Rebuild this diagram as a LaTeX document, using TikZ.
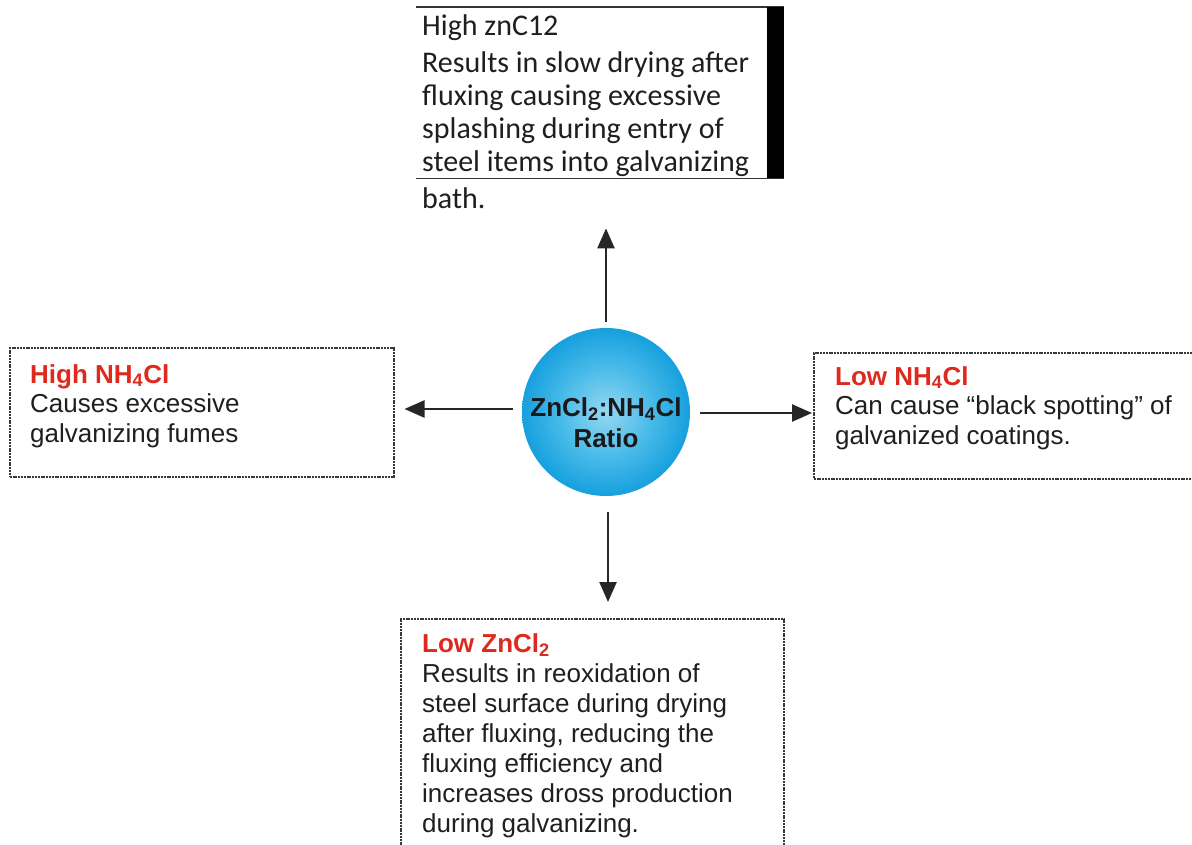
\documentclass[tikz,border=0pt]{standalone}
\usepackage{fontspec}
\setmainfont{Liberation Sans}
\newfontfamily\calibrifont{Carlito}
\usetikzlibrary{arrows.meta}
\definecolor{titlered}{RGB}{222,42,30}
\definecolor{ballin}{RGB}{150,215,242}
\definecolor{ballmid}{RGB}{75,188,233}
\definecolor{ballout}{RGB}{22,160,222}
\pgfdeclareradialshading{blueball}{\pgfpoint{0bp}{0bp}}{color(0bp)=(ballin); color(13bp)=(ballmid); color(25bp)=(ballout); color(50bp)=(ballout)}
\tikzset{
  fbox/.style={draw=black!78, dash pattern=on 2pt off 0.8pt, line width=1.5pt, inner sep=0pt},
  txt/.style={anchor=north west, align=left, inner sep=0pt, font=\fontsize{26}{29.5}\selectfont, text=black!88},
  toptxt/.style={anchor=north west, align=left, inner sep=0pt, font=\calibrifont\fontsize{30}{33.3}\selectfont, text=black!88},
  hub/.style={circle, shading=blueball, minimum size=168pt, inner sep=0pt},
  hubtxt/.style={align=center, inner sep=0pt, font=\bfseries\fontsize{26}{31}\selectfont, text=black!90},
  arr/.style={line width=2.4pt, draw=black!85, -{Triangle[length=20pt,width=17pt]}}
}
\newcommand{\ttlr}[1]{\textcolor{titlered}{\bfseries #1}}
\begin{document}
\begin{tikzpicture}[x=1pt,y=-1pt]
\useasboundingbox (0,0) rectangle (1192,845);
\fill[white] (0,0) rectangle (1192,845);

% centre
\node[hub] (hub) at (606,412) {};
\node[hubtxt] (hubtext) at ([yshift=-11pt]hub.center) {ZnCl\textsubscript{2}:NH\textsubscript{4}Cl\\Ratio};

% top box
\node[anchor=north west, minimum width=368pt, minimum height=171pt, inner sep=0pt] (topbox) at (416,7) {};
\draw[line width=1.5pt, black!80] (topbox.north west) -- (topbox.north east);
\draw[line width=1.5pt, black!80] (topbox.south west) -- (topbox.south east);
\fill[black] (topbox.north east) rectangle ([xshift=-17pt]topbox.south east);
\node[toptxt] (toptext) at (422,14) {High znC12\\[3.7pt]Results in slow drying after\\fluxing causing excessive\\splashing during entry of\\steel items into galvanizing};
\node[toptxt] (bath) at (422,187) {bath.};

% left box
\node[fbox, anchor=north west, minimum width=384pt, minimum height=129pt] (lbox) at (9,347) {};
\node[txt] (ltext) at (30,364) {\ttlr{High NH\textsubscript{4}Cl}\\Causes excessive\\galvanizing fumes};

% right box
\node[fbox, anchor=north west, minimum width=420pt, minimum height=126pt] (rbox) at (813,352) {};
\node[txt] (rtext) at (835,366) {\ttlr{Low NH\textsubscript{4}Cl}\\Can cause “black spotting” of\\galvanized coatings.};

% bottom box
\node[fbox, anchor=north west, minimum width=383pt, minimum height=260pt] (bbox) at (400,618) {};
\node[txt, font=\fontsize{26}{30}\selectfont] (btext) at (422,633) {\ttlr{Low ZnCl\textsubscript{2}}\\Results in reoxidation of\\steel surface during drying\\after fluxing, reducing the\\fluxing efficiency and\\increases dross production\\during galvanizing.};

% arrows
\coordinate (ut) at ([yshift=6pt]hub.north);
\coordinate (uh) at ([yshift=-50pt]topbox.south);
\draw[arr] (ut) -- (ut |- uh);
\coordinate (lt) at ([shift={(-9pt,3pt)}]hub.west);
\coordinate (lh) at ([xshift=10pt]lbox.east);
\draw[arr] (lt) -- (lh |- lt);
\coordinate (rt) at ([shift={(10pt,-1pt)}]hub.east);
\coordinate (rh) at ([xshift=-1pt]rbox.west);
\draw[arr] (rt) -- (rh |- rt);
\coordinate (dt) at ([shift={(2pt,-16pt)}]hub.south);
\coordinate (dh) at ([yshift=16pt]bbox.north);
\draw[arr] (dt) -- (dt |- dh);
\end{tikzpicture}
\end{document}
